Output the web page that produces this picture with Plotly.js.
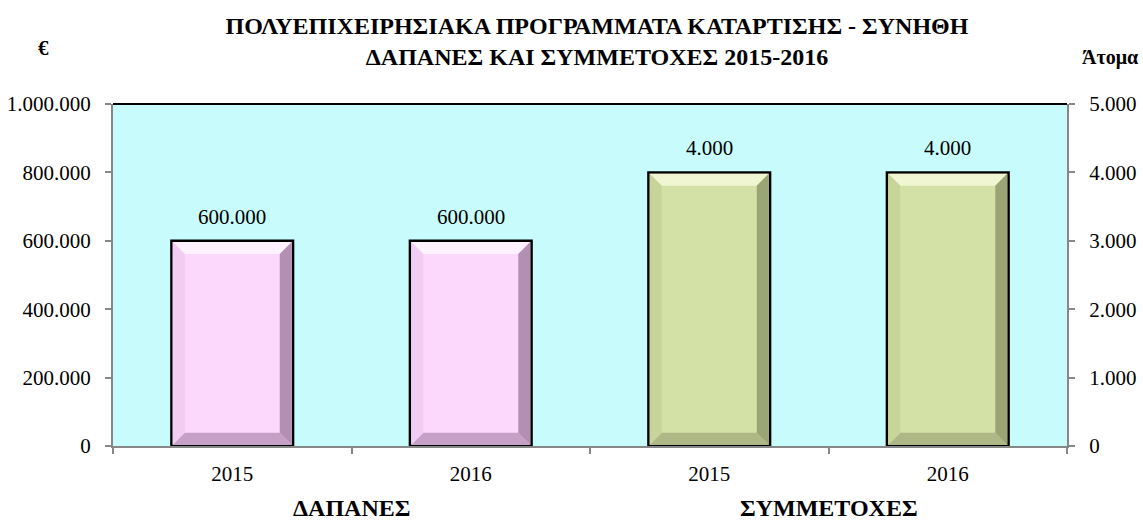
<!DOCTYPE html>
<html>
<head>
<meta charset="utf-8">
<script src="https://cdn.plot.ly/plotly-3.0.1.min.js"></script>
<style>html,body{margin:0;padding:0;background:#fff;}#chart{width:1143px;height:532px;}</style>
</head>
<body>
<div id="chart"></div>
<script>
// ---- data ----
const titleLines = ['ΠΟΛΥΕΠΙΧΕΙΡΗΣΙΑΚΑ ΠΡΟΓΡΑΜΜΑΤΑ ΚΑΤΑΡΤΙΣΗΣ - ΣΥΝΗΘΗ', 'ΔΑΠΑΝΕΣ ΚΑΙ ΣΥΜΜΕΤΟΧΕΣ 2015-2016'];
const leftUnit = '€';
const rightUnit = 'Άτομα';
const groupNames = ['ΔΑΠΑΝΕΣ', 'ΣΥΜΜΕΤΟΧΕΣ'];
const spendYears = ['2015', '2016'];
const spendValues = [600000, 600000];          // € (left axis)
const partYears = ['2015', '2016'];
const partValues = [4000, 4000];               // persons (right axis)

// ---- layout constants ----
const W = 1143, H = 532;
const M = {l: 113, r: 76, t: 104, b: 86};
const plotW = W - M.l - M.r, plotH = H - M.t - M.b;
const Y1MAX = 1000000, Y2MAX = 5000;

// ---- derived positions ----
const yearLabels = spendYears.concat(partYears);
const spendX = spendYears.map((_, i) => i);
const partX = partYears.map((_, i) => i + spendYears.length);
const allX = spendX.concat(partX);
const nCat = allX.length;
const boundaries = [-0.5].concat(allX.map(v => v + 0.5));
const mean = a => a.reduce((s, b) => s + b, 0) / a.length;
const groupCenters = [mean(spendX), mean(partX)];
const fmt = v => String(Math.round(v)).replace(/\B(?=(\d{3})+(?!\d))/g, '.');

const FONT = '"Liberation Serif", "Times New Roman", serif';
const BARGAP = 0.49;
const HALF = (1 - BARGAP) / 2;

const pink = {fill: '#FCD8FC', top: '#FFF2FF', left: '#F2CCF2', right: '#B38FB3', bottom: '#C7A0C7'};
const green = {fill: '#D3E1A7', top: '#F1F6D2', left: '#C7D59B', right: '#9AA475', bottom: '#ADB886'};

const traces = [
  {
    type: 'bar', x: spendX, y: spendValues, yaxis: 'y',
    marker: {color: pink.fill, line: {color: '#000', width: 2.5}},
    hoverinfo: 'none', showlegend: false
  },
  {
    type: 'bar', x: partX, y: partValues, yaxis: 'y2',
    marker: {color: green.fill, line: {color: '#000', width: 2.5}},
    hoverinfo: 'none', showlegend: false
  }
];

// bevel shapes derived from the data values
const shapes = [];
const BPX = 12;                       // bevel depth in px
const dxPx = nCat / plotW;            // x units per px
function bevel(xs, ys, yref, ymax, col) {
  const dyPx = ymax / plotH;
  const D = BPX * dxPx, B = BPX * dyPx;
  const ox = 1.3 * dxPx, oy = 1.3 * dyPx;  // stay inside outline
  xs.forEach((c, i) => {
    const v = ys[i];
    const l = c - HALF + ox, r = c + HALF - ox, t = v - oy, b0 = oy;
    const mk = (pts, color) => shapes.push({
      type: 'path', xref: 'x', yref: yref, layer: 'above',
      path: 'M' + pts.map(p => p[0] + ',' + p[1]).join(' L') + ' Z',
      fillcolor: color, line: {width: 0}
    });
    mk([[l, t], [r, t], [r - D, t - B], [l + D, t - B]], col.top);
    mk([[l, b0], [r, b0], [r - D, b0 + B], [l + D, b0 + B]], col.bottom);
    mk([[l, t], [l + D, t - B], [l + D, b0 + B], [l, b0]], col.left);
    mk([[r, t], [r - D, t - B], [r - D, b0 + B], [r, b0]], col.right);
  });
}
bevel(spendX, spendValues, 'y', Y1MAX, pink);
bevel(partX, partValues, 'y2', Y2MAX, green);

// top black border of the plot area
shapes.push({type: 'line', xref: 'paper', yref: 'paper', x0: 0, x1: 1, y0: 1, y1: 1,
  line: {color: '#000', width: 2}});

const px2paperX = px => (px - M.l) / plotW;
const px2paperY = py => (H - M.b - py) / plotH;

const layout = {
  width: W, height: H,
  margin: {l: M.l, r: M.r, t: M.t, b: M.b, pad: 0},
  paper_bgcolor: '#ffffff',
  plot_bgcolor: '#C8FCFC',
  separators: ',.',
  barmode: 'overlay',
  bargap: BARGAP,
  font: {family: FONT, size: 21, color: '#000'},
  title: {
    text: '<b>' + titleLines.join('<br>') + '</b>',
    xref: 'container', yref: 'container',
    x: 597 / W, xanchor: 'center', y: 1 - 34 / H, yanchor: 'middle',
    font: {family: FONT, size: 24, color: '#000'}
  }
};

const annotations = [];
annotations.push({text: '<b>' + leftUnit + '</b>', xref: 'paper', yref: 'paper',
  x: px2paperX(43), y: px2paperY(48), xanchor: 'center', yanchor: 'middle',
  showarrow: false, font: {family: FONT, size: 21, color: '#000'}});
annotations.push({text: '<b>' + rightUnit + '</b>', xref: 'paper', yref: 'paper',
  x: px2paperX(1110), y: px2paperY(58), xanchor: 'center', yanchor: 'middle',
  showarrow: false, font: {family: FONT, size: 20, color: '#000'}});
groupNames.forEach((g, i) => annotations.push({
  text: '<b>' + g + '</b>', xref: 'x', yref: 'paper', x: groupCenters[i],
  y: px2paperY(508), yanchor: 'middle', showarrow: false,
  font: {family: FONT, size: 24, color: '#000'}
}));
// value labels
spendX.forEach((x, i) => annotations.push({
  text: fmt(spendValues[i]), xref: 'x', yref: 'y', x: x, y: spendValues[i],
  yanchor: 'middle', yshift: 24, showarrow: false,
  font: {family: FONT, size: 21, color: '#000'}
}));
partX.forEach((x, i) => annotations.push({
  text: fmt(partValues[i]), xref: 'x', yref: 'y2', x: x, y: partValues[i],
  yanchor: 'middle', yshift: 24, showarrow: false,
  font: {family: FONT, size: 21, color: '#000'}
}));

const axisCommon = {
  showgrid: false, zeroline: false,
  showline: true, linecolor: '#878787', linewidth: 2,
  tickfont: {family: FONT, size: 21, color: '#000'}
};

layout.xaxis = Object.assign({}, axisCommon, {
  range: [-0.5, nCat - 0.5],
  tickmode: 'array', tickvals: allX, ticktext: yearLabels,
  ticks: '', ticklabelstandoff: 8,
  minor: {tickmode: 'array', tickvals: boundaries, ticks: 'outside', ticklen: 6,
          tickwidth: 2, tickcolor: '#878787', showgrid: false}
});
layout.yaxis = Object.assign({}, axisCommon, {
  range: [0, Y1MAX], dtick: Y1MAX / 5, tick0: 0, tickformat: ',d',
  ticks: 'outside', ticklen: 6, tickwidth: 2, tickcolor: '#878787',
  ticklabelstandoff: 10
});
layout.yaxis2 = Object.assign({}, axisCommon, {
  overlaying: 'y', side: 'right',
  range: [0, Y2MAX], dtick: Y2MAX / 5, tick0: 0, tickformat: ',d',
  ticks: 'outside', ticklen: 6, tickwidth: 2, tickcolor: '#878787',
  ticklabelstandoff: 10
});
layout.shapes = shapes;
layout.annotations = annotations;

Plotly.newPlot('chart', traces, layout, {displayModeBar: false, staticPlot: true});
</script>
</body>
</html>
